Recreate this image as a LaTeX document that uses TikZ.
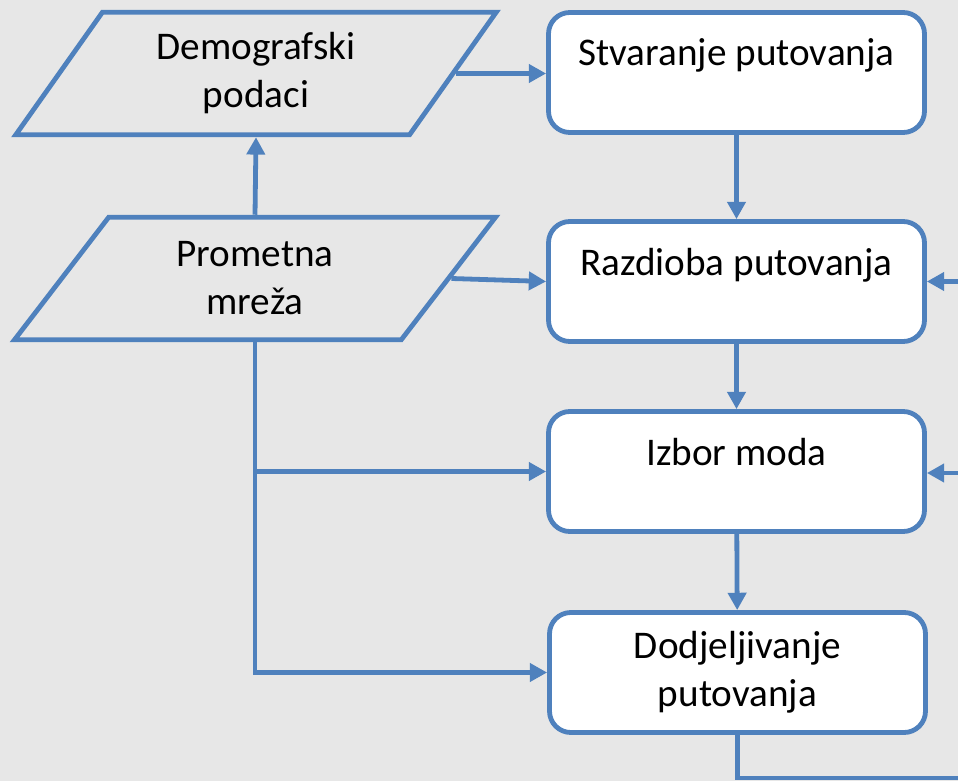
\documentclass[tikz,border=0pt]{standalone}
\usepackage{fontspec}
\setmainfont{Carlito}
\usetikzlibrary{shapes.geometric,arrows.meta,positioning}
\definecolor{flowblue}{HTML}{4F81BD}
\definecolor{bggray}{HTML}{E7E7E7}
\tikzset{
stepbox/.style={
  rectangle,
  rounded corners=16pt,
  draw=flowblue,
  fill=white,
  line width=3.6pt,
  minimum width=282pt,
  minimum height=90pt,
  align=center,
  font=\fontsize{29.4}{36}\selectfont
  },
oneline/.style={text depth=30pt},
databox/.style={
  trapezium,
  trapezium left angle=55.4,
  trapezium right angle=124.6,
  trapezium stretches=true,
  draw=flowblue,
  line width=3.6pt,
  inner sep=0pt,
  minimum width=361pt,
  minimum height=92pt,
  align=center,
  font=\fontsize{29.4}{36}\selectfont
  },
flow/.style={draw=flowblue, line width=3.6pt,
  -{Triangle[length=13pt,width=13.5pt]}},
link/.style={draw=flowblue, line width=3.6pt}
}

\begin{document}
\begin{tikzpicture}[x=0.75pt,y=-0.75pt]
\fill[bggray] (0,0) rectangle (958,781);
\useasboundingbox (0,0) rectangle (958,781);

% input data
\node[databox] (dem) at (256,73.5) {Demografski\\podaci};
\node[databox] (prom) at (255,278.5) {Prometna\\mre\v{z}a};

% model steps
\node[stepbox,oneline] (stv) at (736.5,72.5) {Stvaranje putovanja};
\node[stepbox,oneline] (raz) at (736.5,281.5) {Razdioba putovanja};
\node[stepbox,oneline] (izb) at (736.5,471.5) {Izbor moda};
\node[stepbox] (dod) at (737.5,672.5) {Dodjeljivanje\\putovanja};

% loose ends at the border
\coordinate (rin1) at (958,281.5);
\coordinate (rin2) at (958,473);
\coordinate (bend) at (dod.south |- 0,778);
\coordinate (out) at (958,778);
\coordinate (fork) at (prom.south |- izb.west);

\draw[flow] (stv) -- (raz);
\draw[flow] (raz) -- (izb);
\draw[flow] (izb) -- (dod);

\draw[flow] (prom.north) -- (dem.south);
\draw[flow] (dem.east) -- (dem.east -| stv.west);
\draw[flow] (prom.east) -- (raz.west);
\draw[flow] (prom.south) |- (dod.west);
\draw[flow] (fork) -- (izb.west);

\draw[flow] (rin1) -- (raz.east);
\draw[flow] (rin2) -- (izb.east |- rin2);
\draw[link] (dod.south) -- (bend) -- (out);
\end{tikzpicture}
\end{document}
